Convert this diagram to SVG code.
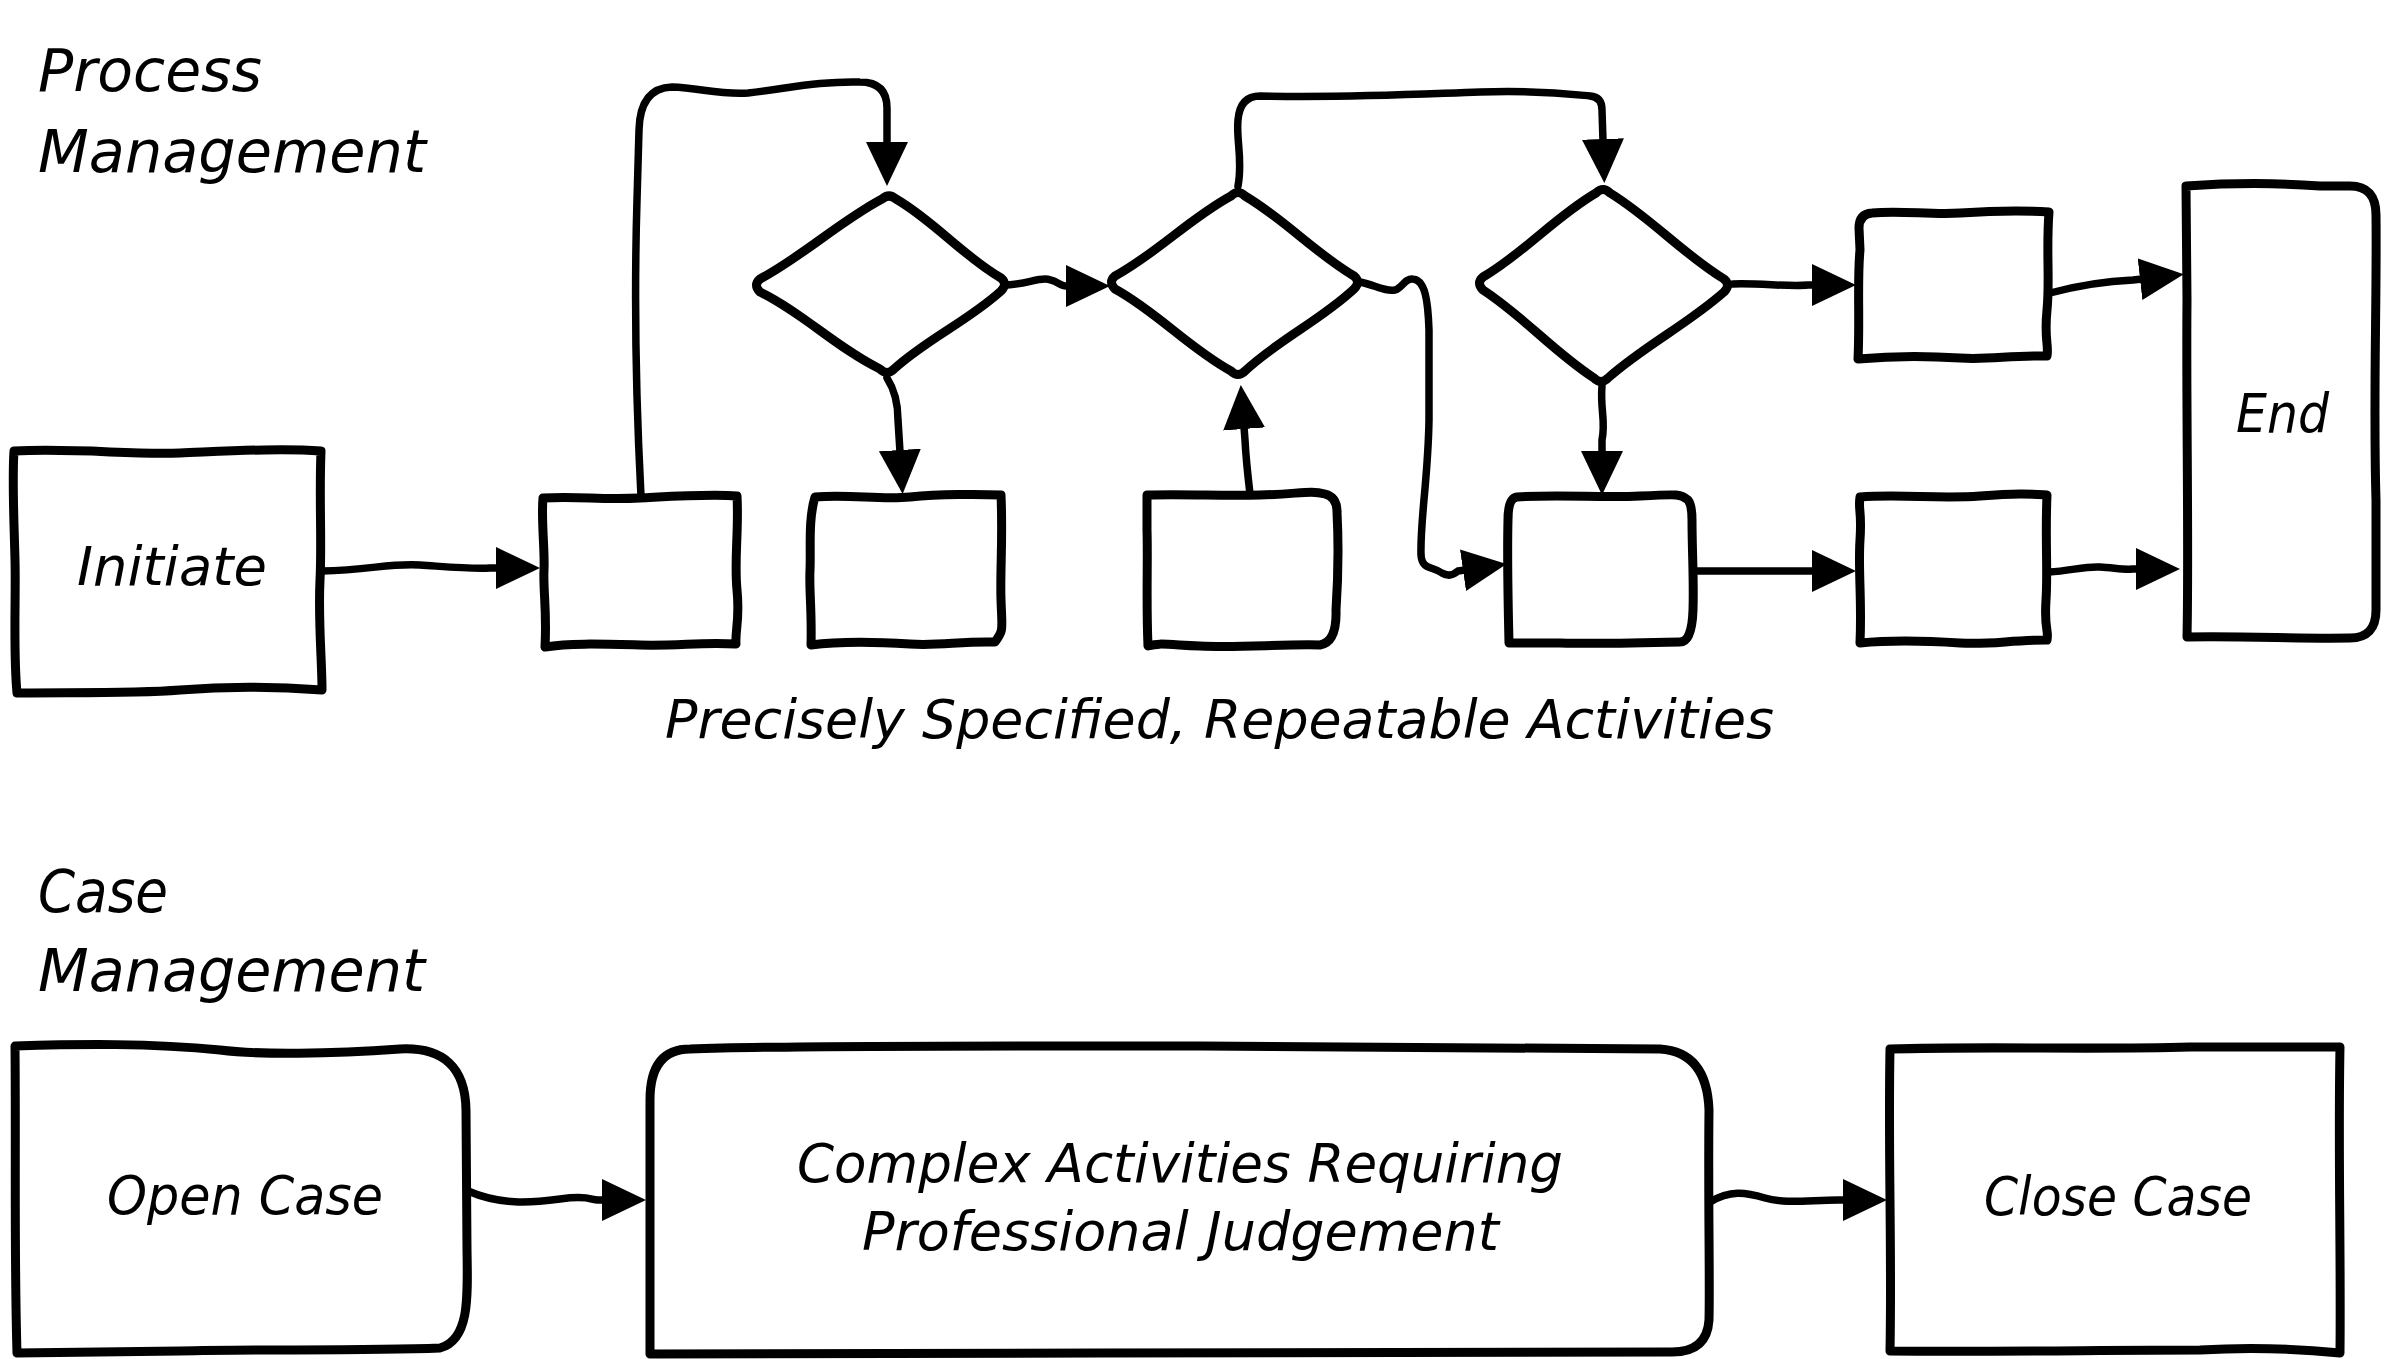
<svg xmlns="http://www.w3.org/2000/svg" width="2384" height="1359" viewBox="0 0 2384 1359">
<style>
.box{fill:#fff;stroke:#000;stroke-width:9;stroke-linejoin:round;stroke-linecap:round}
.con{fill:none;stroke:#000;stroke-width:7.5;stroke-linejoin:round;stroke-linecap:round}
.t{font-family:"DejaVu Sans","Liberation Sans",sans-serif;font-style:italic;fill:#000}
.title{font-size:59px}
.lbl{font-size:54px}
</style>
<defs>
<marker id="ah" markerUnits="userSpaceOnUse" markerWidth="46" markerHeight="44" refX="2" refY="21" orient="auto" viewBox="0 0 46 44">
<path d="M0,0 L44,21 L0,42 Z" fill="#000"/>
</marker>
</defs>
<rect width="2384" height="1359" fill="#fff"/>

<g id="titles">
<text class="t title" x="38" y="91" textLength="224" lengthAdjust="spacingAndGlyphs">Process</text>
<text class="t title" x="38" y="172" textLength="388" lengthAdjust="spacingAndGlyphs">Management</text>
<text class="t title" x="38" y="912" textLength="130" lengthAdjust="spacingAndGlyphs">Case</text>
<text class="t title" x="38" y="991" textLength="387" lengthAdjust="spacingAndGlyphs">Management</text>
<text class="t lbl" x="665" y="738" textLength="1109" lengthAdjust="spacingAndGlyphs">Precisely Specified, Repeatable Activities</text>
</g>

<g id="connectors">
<path class="con" marker-end="url(#ah)" d="M322,571 C370,570 390,563 420,565 S470,569 490,568 L498,568"/>
<path class="con" marker-end="url(#ah)" d="M641,496 C636,400 634,300 637,200 L639,130 Q640,88 672,87 C700,88 720,95 748,93 C790,88 820,81 860,82 Q887,82 887,108 L887,144"/>
<path class="con" marker-end="url(#ah)" d="M887,378 Q898,395 898,420 L900,452"/>
<path class="con" marker-end="url(#ah)" d="M1007,285 C1025,284 1035,279 1045,279 S1060,286 1066,286 L1068,286"/>
<path class="con" marker-end="url(#ah)" d="M1250,494 Q1246,460 1245,440 L1244,427"/>
<path class="con" marker-end="url(#ah)" d="M1238,186 C1243,160 1236,140 1238,120 Q1240,96 1260,96 C1350,98 1420,94 1480,92 S1570,94 1590,96 Q1602,97 1602,110 L1603,141"/>
<path class="con" marker-end="url(#ah)" d="M1360,282 C1375,285 1385,292 1395,290 C1402,288 1405,278 1413,279 C1425,280 1428,300 1429,330 L1429,420 C1428,480 1420,520 1421,555 C1422,570 1432,566 1442,573 Q1450,578 1458,571 L1465,570"/>
<path class="con" marker-end="url(#ah)" d="M1602,386 C1600,410 1606,420 1602,440 L1602,453"/>
<path class="con" marker-end="url(#ah)" d="M1733,284 C1760,283 1790,287 1808,285 L1814,285"/>
<path class="con" marker-end="url(#ah)" d="M2050,293 C2080,285 2110,281 2133,280 L2142,279"/>
<path class="con" marker-end="url(#ah)" d="M1696,571 L1814,571"/>
<path class="con" marker-end="url(#ah)" d="M2049,572 C2070,571 2085,566 2100,567 S2125,570 2132,569 L2138,569"/>
<path class="con" marker-end="url(#ah)" d="M468,1191 C500,1205 530,1203 560,1199 S590,1200 598,1200 L604,1200"/>
<path class="con" marker-end="url(#ah)" d="M1710,1202 C1730,1190 1745,1192 1765,1198 S1810,1200 1838,1200 L1845,1200"/>
</g>

<g id="initiate">
<path class="box" d="M14,451 C80,448 130,455 180,453 S280,448 321,451 C319,500 322,540 320,580 S322,660 322,690 C280,687 230,686 180,690 S60,692 17,693 C13,650 16,600 15,560 S12,480 14,451 Z"/>
<text class="t lbl" x="77" y="585" textLength="190" lengthAdjust="spacingAndGlyphs">Initiate</text>
</g>
<g id="task-a"><path class="box" d="M543,498 C580,496 600,500 640,498 S710,494 737,496 C739,530 734,560 737,590 S735,630 736,644 C700,642 680,646 640,645 S570,643 545,647 C547,610 543,590 544,570 S541,520 543,498 Z"/></g>
<g id="task-b"><path class="box" d="M815,497 C850,494 880,500 910,497 S980,494 1001,495 C1003,540 1000,570 1001,600 S1004,630 995,642 C960,641 940,646 910,644 S840,641 811,645 C812,610 809,590 810,570 S808,520 815,497 Z"/></g>
<g id="task-c"><path class="box" d="M1147,495 C1190,494 1220,496 1260,495 S1310,490 1325,494 Q1337,497 1337,512 C1339,550 1338,580 1336,610 Q1337,642 1320,645 C1280,644 1240,648 1200,646 S1160,643 1148,646 C1146,600 1148,560 1147,530 Z"/></g>
<g id="task-d"><path class="box" d="M1517,497 C1560,494 1600,498 1640,496 S1680,494 1688,500 Q1692,505 1692,520 C1692,550 1694,580 1693,610 Q1692,642 1680,642 C1640,643 1600,644 1560,643 L1509,643 C1508,600 1507,560 1508,520 Q1508,498 1517,497 Z"/></g>
<g id="task-e"><path class="box" d="M1860,497 C1900,494 1940,499 1980,496 S2030,494 2047,495 C2045,540 2048,570 2046,600 S2049,630 2047,640 C2010,640 1990,645 1960,643 S1890,640 1860,643 C1862,600 1858,570 1860,540 S1858,510 1860,497 Z"/></g>
<g id="task-f"><path class="box" d="M1872,213 C1900,210 1930,215 1960,213 S2020,210 2049,212 C2046,250 2050,280 2047,310 S2049,345 2047,356 C2010,355 1990,360 1960,358 S1890,356 1858,359 C1860,320 1857,280 1860,250 L1859,228 Q1859,214 1872,213 Z"/></g>
<g id="end">
<path class="box" d="M2186,186 C2230,183 2280,183 2320,186 L2350,186 Q2376,186 2376,215 C2377,300 2373,400 2376,500 L2376,610 Q2376,638 2350,638 C2300,639 2250,636 2187,637 C2189,550 2186,400 2187,300 Z"/>
<text class="t lbl" x="2236" y="432" textLength="93" lengthAdjust="spacingAndGlyphs">End</text>
</g>

<g id="decision-1"><path class="box" d="M760,279 C803,256 839,222 882,199 Q889,193 896,199 C934,221 963,256 1001,278 Q1008,284 1001,291 C968,321 927,339 894,369 Q887,376 880,369 C837,348 803,313 760,292 Q753,285 760,279 Z"/></g>
<g id="decision-2"><path class="box" d="M1115,276 C1157,253 1189,219 1231,196 Q1238,189 1245,196 C1284,219 1315,253 1354,276 Q1361,282 1354,289 C1321,320 1278,340 1245,371 Q1238,378 1231,371 C1189,348 1157,312 1115,289 Q1108,282 1115,276 Z"/></g>
<g id="decision-3"><path class="box" d="M1483,277 C1524,253 1555,217 1596,193 Q1603,186 1610,193 C1651,218 1683,254 1724,279 Q1731,285 1724,292 C1688,324 1644,346 1608,378 Q1601,385 1594,378 C1554,352 1523,316 1483,290 Q1476,283 1483,277 Z"/></g>

<g id="open-case">
<path class="box" d="M15,1046 C80,1044 150,1043 220,1050 C260,1055 330,1054 400,1049 Q465,1046 466,1110 L467,1250 C468,1300 469,1340 440,1348 C360,1351 260,1349 180,1351 L17,1353 C14,1250 16,1150 15,1046 Z"/>
<text class="t lbl" x="107" y="1214" textLength="276" lengthAdjust="spacingAndGlyphs">Open Case</text>
</g>
<g id="complex">
<path class="box" d="M690,1049 C800,1045 1000,1046 1200,1046 C1400,1047 1550,1047 1660,1049 Q1707,1052 1709,1110 C1708,1200 1710,1280 1709,1320 Q1707,1353 1670,1352 C1500,1352 1300,1351 1100,1353 C900,1354 750,1353 650,1354 L650,1100 Q650,1049 690,1049 Z"/>
<text class="t lbl" x="797" y="1182" textLength="766" lengthAdjust="spacingAndGlyphs">Complex Activities Requiring</text>
<text class="t lbl" x="862" y="1250" textLength="637" lengthAdjust="spacingAndGlyphs">Professional Judgement</text>
</g>
<g id="close-case">
<path class="box" d="M1890,1049 C1990,1046 2090,1050 2190,1047 L2340,1047 C2338,1150 2341,1250 2340,1353 C2300,1349 2250,1347 2200,1350 C2100,1350 2000,1352 1890,1351 C1892,1250 1888,1150 1890,1049 Z"/>
<text class="t lbl" x="1984" y="1215" textLength="268" lengthAdjust="spacingAndGlyphs">Close Case</text>
</g>
</svg>
